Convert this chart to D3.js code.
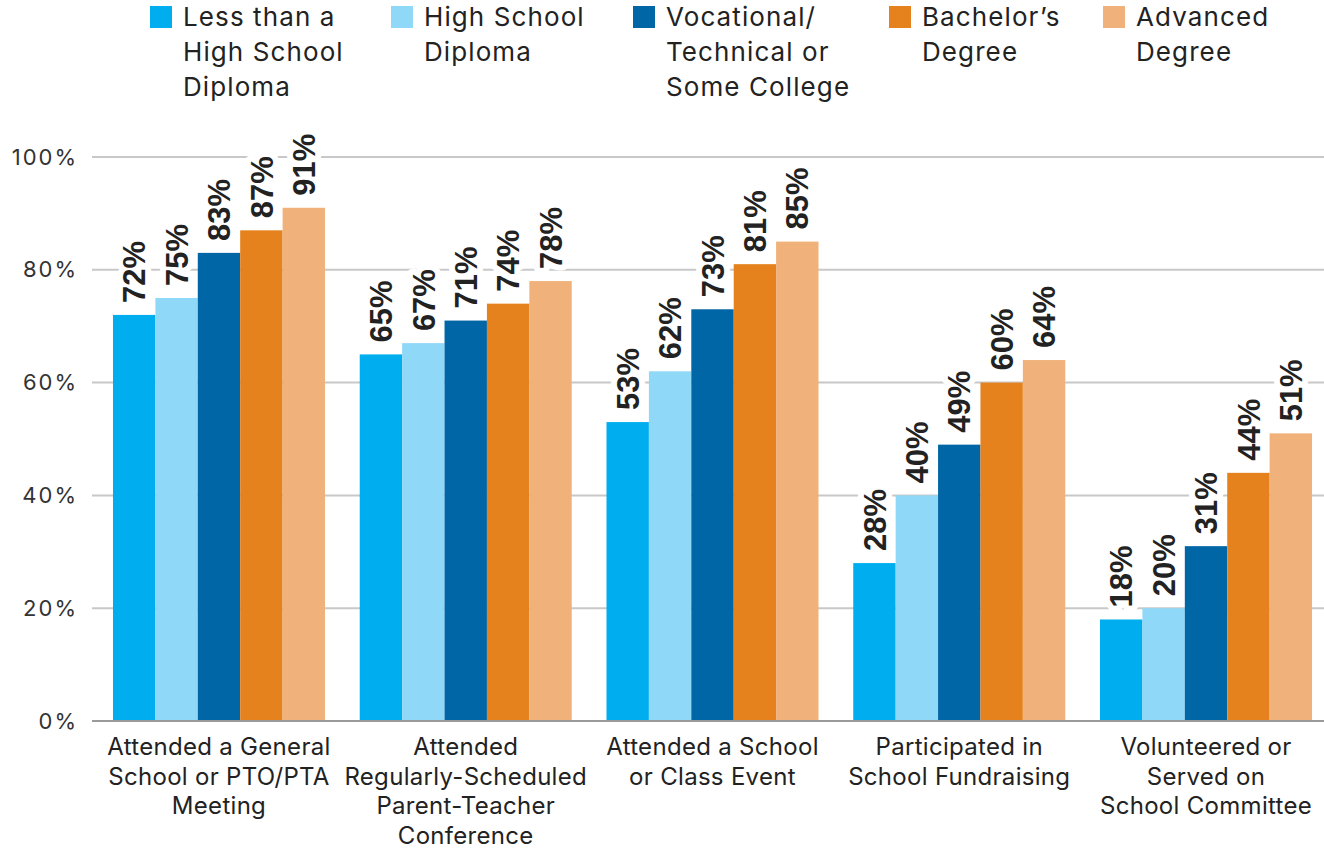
<!DOCTYPE html>
<html>
<head>
<meta charset="utf-8">
<script src="https://cdn.jsdelivr.net/npm/d3@7"></script>
<style>
  html, body { margin: 0; padding: 0; background: #fff; }
  svg { display: block; }
  text { font-family: Inter, Roboto, "Liberation Sans", Arial, sans-serif; }
  text.val { font-family: "Liberation Sans", Arial, Helvetica, sans-serif; }
</style>
</head>
<body>
<svg id="chart" width="1324" height="850"></svg>
<script>
// ---- Data ----
const categories = [
  "Attended a General School or PTO/PTA Meeting",
  "Attended Regularly-Scheduled Parent-Teacher Conference",
  "Attended a School or Class Event",
  "Participated in School Fundraising",
  "Volunteered or Served on School Committee"
];
const categoryLines = [
  ["Attended a General", "School or PTO/PTA", "Meeting"],
  ["Attended", "Regularly-Scheduled", "Parent-Teacher", "Conference"],
  ["Attended a School", "or Class Event"],
  ["Participated in", "School Fundraising"],
  ["Volunteered or", "Served on", "School Committee"]
];
const seriesNames = [
  "Less than a High School Diploma",
  "High School Diploma",
  "Vocational/Technical or Some College",
  "Bachelor's Degree",
  "Advanced Degree"
];
const legendLines = [
  ["Less than a", "High School", "Diploma"],
  ["High School", "Diploma"],
  ["Vocational/", "Technical or", "Some College"],
  ["Bachelor\u2019s", "Degree"],
  ["Advanced", "Degree"]
];
const lessThanHS = [72, 65, 53, 28, 18];
const highSchool = [75, 67, 62, 40, 20];
const vocational = [83, 71, 73, 49, 31];
const bachelors  = [87, 74, 81, 60, 44];
const advanced   = [91, 78, 85, 64, 51];
const seriesValues = [lessThanHS, highSchool, vocational, bachelors, advanced];
const yTicks = [0, 20, 40, 60, 80, 100];

// ---- Styles / layout ----
const colors = ["#00AEEF", "#8FD8F7", "#0066A6", "#E6821E", "#F0B27A"];
const legendX = [150, 391, 633, 889, 1103];

const svg = d3.select("#chart");
const plotLeft = 92, plotRight = 1333, plotTop = 157, plotBottom = 721;

const x0 = d3.scaleBand().domain(categories).range([plotLeft, plotRight])
  .paddingInner(0.1408).paddingOuter(0.085);
const x1 = d3.scaleBand().domain(seriesNames).range([0, x0.bandwidth()]);
const y = d3.scaleLinear().domain([0, 100]).range([plotBottom, plotTop]);

// gridlines
const grid = svg.append("g");
grid.selectAll("line").data(yTicks.filter(d => d > 0)).join("line")
  .attr("x1", plotLeft).attr("x2", 1324)
  .attr("y1", d => y(d)).attr("y2", d => y(d))
  .attr("stroke", "#c8c8c8").attr("stroke-width", 2);

// y axis labels
const yAxis = d3.axisLeft(y).tickValues(yTicks).tickFormat(d => d + "%").tickSize(0).tickPadding(14);
const ya = svg.append("g").attr("transform", `translate(${plotLeft},0)`).call(yAxis);
ya.select(".domain").remove();
ya.selectAll("text").attr("font-size", 22).attr("fill", "#333").attr("letter-spacing", 2);

// bars
const groups = svg.append("g").selectAll("g").data(categories).join("g")
  .attr("transform", d => `translate(${x0(d)},0)`);

groups.selectAll("rect")
  .data((c, ci) => seriesNames.map((s, si) => ({ s, si, v: seriesValues[si][ci] })))
  .join("rect")
  .attr("x", d => x1(d.s))
  .attr("width", x1.bandwidth())
  .attr("y", d => y(d.v))
  .attr("height", d => y(0) - y(d.v))
  .attr("fill", d => colors[d.si]);

// value labels
groups.selectAll("text.val")
  .data((c, ci) => seriesNames.map((s, si) => ({ s, si, v: seriesValues[si][ci] })))
  .join("text")
  .attr("class", "val")
  .attr("transform", d => `translate(${x1(d.s) + x1.bandwidth() / 2},${y(d.v) - 12}) rotate(-90)`)
  .attr("dy", "0.36em")
  .attr("text-anchor", "start")
  .attr("font-size", 31)
  .attr("font-weight", "bold")
  .attr("fill", "#222")
  .attr("stroke", "#fff").attr("stroke-width", 12).attr("paint-order", "stroke")
  .attr("stroke-linejoin", "round")
  .text(d => d.v + "%");

// x axis line
svg.append("line").attr("x1", plotLeft).attr("x2", 1324)
  .attr("y1", plotBottom).attr("y2", plotBottom)
  .attr("stroke", "#9a9a9a").attr("stroke-width", 2);

// category labels
const cat = svg.append("g").selectAll("text").data(categories).join("text")
  .attr("x", d => x0(d) + x0.bandwidth() / 2)
  .attr("y", 755)
  .attr("text-anchor", "middle")
  .attr("font-size", 24)
  .attr("letter-spacing", 0.3)
  .attr("fill", "#222");
cat.selectAll("tspan").data((d, i) => categoryLines[i]).join("tspan")
  .attr("x", function () { return d3.select(this.parentNode).attr("x"); })
  .attr("dy", (d, i) => i === 0 ? 0 : 29.5)
  .text(d => d);

// legend
const leg = svg.append("g").selectAll("g").data(seriesNames).join("g")
  .attr("transform", (d, i) => `translate(${legendX[i]},0)`);
leg.append("rect").attr("x", 0).attr("y", 6).attr("width", 22).attr("height", 22)
  .attr("fill", (d, i) => colors[i]);
const lt = leg.append("text").attr("x", 33).attr("y", 26)
  .attr("font-size", 26).attr("letter-spacing", 1.1).attr("fill", "#222");
lt.selectAll("tspan").data((d, i) => legendLines[i]).join("tspan")
  .attr("x", 33).attr("dy", (d, i) => i === 0 ? 0 : 35).text(d => d);
</script>
</body>
</html>
